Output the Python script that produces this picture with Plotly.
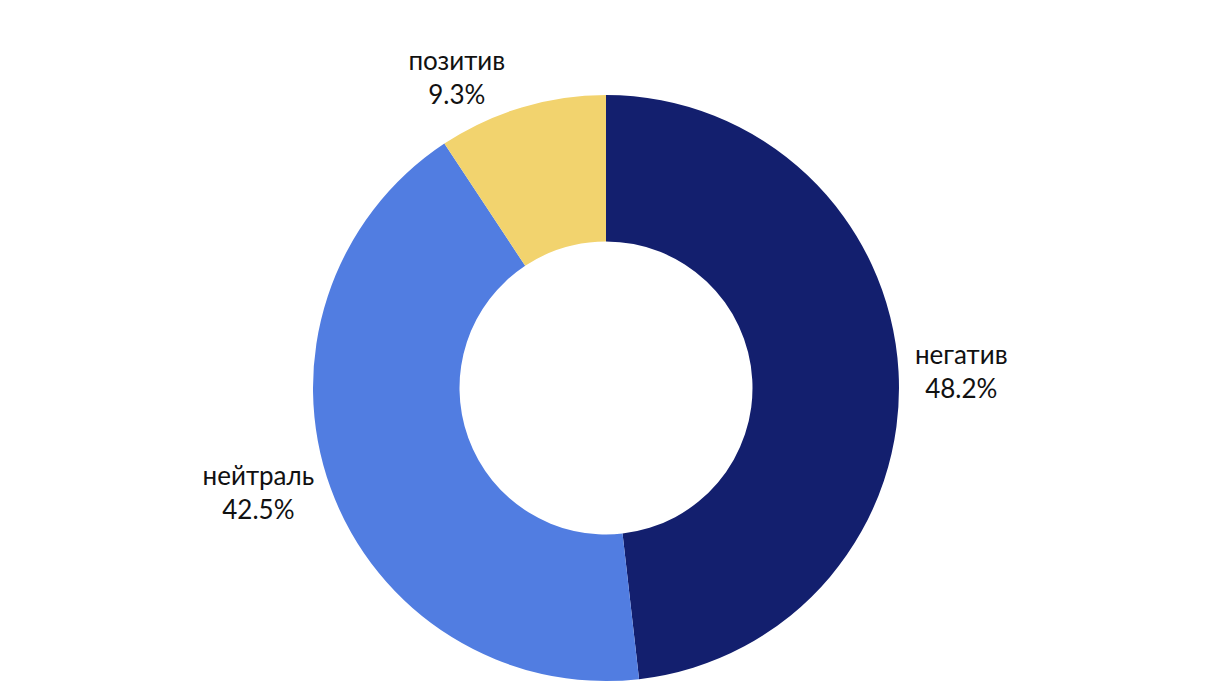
import plotly.graph_objects as go

labels = ["негатив", "нейтраль", "позитив"]
values = [48.2, 42.5, 9.3]
colors = ["#131F6E", "#517DE1", "#F2D36E"]

fig = go.Figure(go.Pie(
    labels=labels, values=values, hole=0.5, sort=False, direction="clockwise",
    rotation=0, marker=dict(colors=colors, line=dict(width=0)),
    textposition="outside", texttemplate="%{label}<br>%{value:.1f}%",
    textfont=dict(size=26, color="#111111", family="Lato"),
    showlegend=False,
))
fig.update_traces(automargin=False)
fig.update_layout(width=1216, height=694, margin=dict(l=0, r=20, t=87, b=21),
                  paper_bgcolor="white", plot_bgcolor="white")
fig.write_html("out.html")
